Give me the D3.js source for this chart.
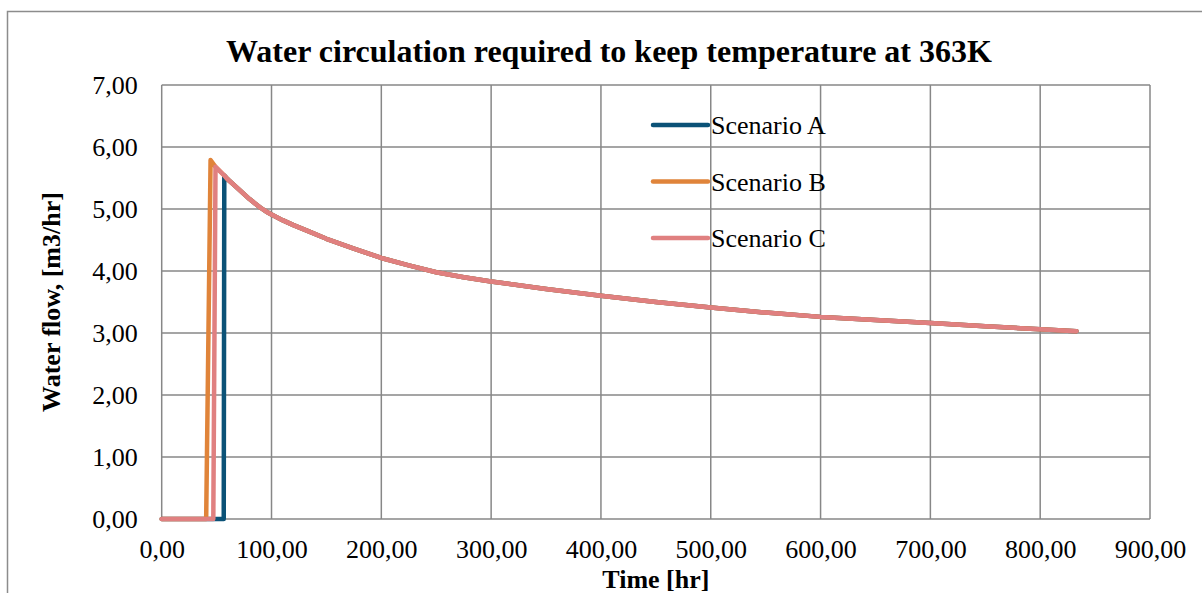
<!DOCTYPE html>
<html>
<head>
<meta charset="utf-8">
<script src="https://cdn.jsdelivr.net/npm/d3@7"></script>
<style>
  html, body { margin: 0; padding: 0; background: #fff; }
  svg { display: block; }
  text { font-family: "Liberation Serif", "Times New Roman", serif; fill: #000; }
</style>
</head>
<body>
<svg id="chart" width="1202" height="593"></svg>
<script>
// Shared flow curve after start-up (time in hr, flow in m3/hr)
const decayTime = [57, 60, 65, 70, 75, 80, 85, 90, 95, 100, 110, 120, 135, 150, 175, 200, 225, 250, 275, 300, 350, 400, 450, 500, 550, 600, 650, 700, 750, 800, 833];
const decayFlow = [5.54, 5.48, 5.40, 5.32, 5.24, 5.16, 5.09, 5.02, 4.96, 4.91, 4.82, 4.74, 4.63, 4.52, 4.36, 4.21, 4.09, 3.98, 3.90, 3.83, 3.71, 3.60, 3.50, 3.41, 3.33, 3.26, 3.21, 3.16, 3.11, 3.06, 3.03];

// Start-up part of each scenario, before it joins the shared curve
const startA_time = [0, 56.5];
const startA_flow = [0, 0];
const startB_time = [0, 40.5, 44.5, 49];
const startB_flow = [0, 0, 5.79, 5.68];
const startC_time = [0, 47, 49];
const startC_flow = [0, 0, 5.68];

const seriesNames = ["Scenario A", "Scenario B", "Scenario C"];
const seriesColors = ["#0b5277", "#e0843a", "#e08080"];

const xTicks = [0, 100, 200, 300, 400, 500, 600, 700, 800, 900];
const yTicks = [0, 1, 2, 3, 4, 5, 6, 7];

function buildSeries(ts, fs, fromTime) {
  const pts = ts.map((t, i) => [t, fs[i]]);
  decayTime.forEach((t, i) => { if (t > fromTime) pts.push([t, decayFlow[i]]); });
  return pts;
}
const seriesData = [
  buildSeries(startA_time, startA_flow, 56.9),
  buildSeries(startB_time, startB_flow, 49),
  buildSeries(startC_time, startC_flow, 49)
];

const svg = d3.select("#chart");
const plot = { left: 161.7, right: 1150, top: 85, bottom: 519 };

const locale = d3.formatLocale({ decimal: ",", thousands: ".", grouping: [3], currency: ["", ""] });
const fmt = locale.format(".2f");

const x = d3.scaleLinear().domain([0, 900]).range([plot.left, plot.right]);
const y = d3.scaleLinear().domain([0, 7]).range([plot.bottom, plot.top]);

// outer chart frame
svg.append("rect")
  .attr("x", 7.5).attr("y", 11.5)
  .attr("width", 1210).attr("height", 620)
  .attr("fill", "#fff").attr("stroke", "#8c8c8c").attr("stroke-width", 1.5);

// gridlines
const grid = svg.append("g");
grid.selectAll("line.v").data(xTicks).join("line")
  .attr("x1", d => x(d)).attr("x2", d => x(d))
  .attr("y1", plot.top).attr("y2", plot.bottom)
  .attr("stroke", "#878787").attr("stroke-width", 1.5);
grid.selectAll("line.h").data(yTicks).join("line")
  .attr("x1", plot.left).attr("x2", plot.right)
  .attr("y1", d => y(d)).attr("y2", d => y(d))
  .attr("stroke", "#878787").attr("stroke-width", 1.5);

// axes (labels only; grid draws the lines)
const xAxis = svg.append("g")
  .attr("transform", `translate(0,${plot.bottom})`)
  .call(d3.axisBottom(x).tickValues(xTicks).tickFormat(fmt).tickSize(0).tickPadding(21));
xAxis.select(".domain").remove();
xAxis.selectAll("text").style("font-size", "26px");

const yAxis = svg.append("g")
  .attr("transform", `translate(${plot.left},0)`)
  .call(d3.axisLeft(y).tickValues(yTicks).tickFormat(fmt).tickSize(0).tickPadding(24));
yAxis.select(".domain").remove();
yAxis.selectAll("text").style("font-size", "26px");

// series lines
const line = d3.line().x(d => x(d[0])).y(d => y(d[1]));
svg.append("g").selectAll("path").data(seriesData).join("path")
  .attr("d", line)
  .attr("fill", "none")
  .attr("stroke", (d, i) => seriesColors[i])
  .attr("stroke-width", 4.5)
  .attr("stroke-linejoin", "round")
  .attr("stroke-linecap", "round");

// legend
const legend = svg.append("g");
seriesNames.forEach((name, i) => {
  const ly = 125 + i * 56.5;
  legend.append("line")
    .attr("x1", 653).attr("x2", 708).attr("y1", ly).attr("y2", ly)
    .attr("stroke", seriesColors[i]).attr("stroke-width", 4.5).attr("stroke-linecap", "round");
  legend.append("text")
    .attr("x", 711).attr("y", ly).attr("dy", "0.35em")
    .style("font-size", "26px").text(name);
});

// title
svg.append("text")
  .attr("x", 609).attr("y", 62).attr("text-anchor", "middle")
  .style("font-size", "32px").style("font-weight", "bold")
  .text("Water circulation required to keep temperature at 363K");

// axis titles
svg.append("text")
  .attr("x", (plot.left + plot.right) / 2).attr("y", 588).attr("text-anchor", "middle")
  .style("font-size", "26px").style("font-weight", "bold")
  .text("Time [hr]");
svg.append("text")
  .attr("transform", `translate(60,${(plot.top + plot.bottom) / 2}) rotate(-90)`)
  .attr("text-anchor", "middle")
  .style("font-size", "26px").style("font-weight", "bold")
  .text("Water flow, [m3/hr]");
</script>
</body>
</html>
